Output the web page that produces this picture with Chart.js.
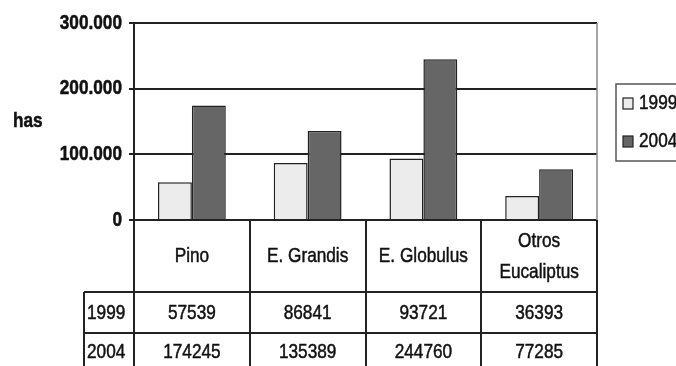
<!DOCTYPE html>
<html>
<head>
<meta charset="utf-8">
<script src="https://cdn.jsdelivr.net/npm/chart.js@4"></script>
<style>
  html, body { margin: 0; padding: 0; background: #fff; overflow: hidden; }
  #chart { display: block; }
</style>
</head>
<body>
<canvas id="chart" width="676" height="366"></canvas>
<script>
// chart data
const categories = ['Pino', 'E. Grandis', 'E. Globulus', ['Otros', 'Eucaliptus']];
const seriesNames = ['1999', '2004'];
const values1999 = [57539, 86841, 93721, 36393];
const values2004 = [174245, 135389, 244760, 77285];
const yTicks = [0, 100000, 200000, 300000];
const yLabel = 'has';

// no narrow font installed, so Arial-metric text gets squeezed horizontally
const FONT = "'Liberation Sans', Arial, sans-serif";
const SQUEEZE = 0.82;
const fillColors = ['#ececec', '#666666'];

// thousands with dots: 300000 -> 300.000
function fmt(v) {
  return String(v).replace(/\B(?=(\d{3})+(?!\d))/g, '.');
}

function narrowText(ctx, text, x, y, align, bold) {
  ctx.save();
  ctx.font = (bold ? 'bold ' : '') + '21px ' + FONT;
  ctx.textAlign = align;
  ctx.textBaseline = 'middle';
  ctx.fillStyle = '#111';
  ctx.strokeStyle = '#111';
  ctx.lineWidth = 0.5;
  ctx.translate(x, y);
  ctx.scale(SQUEEZE, 1);
  ctx.fillText(text, 0, 0);
  ctx.strokeText(text, 0, 0); // the scan looks a bit heavier
  ctx.restore();
}

// tick labels, axis label, legend and data table drawn under the plot
const extrasPlugin = {
  id: 'extras',
  afterDraw(chart) {
    const ctx = chart.ctx;
    const area = chart.chartArea;
    const x = chart.scales.x;
    const y = chart.scales.y;
    const half = (x.getPixelForValue(1) - x.getPixelForValue(0)) / 2;
    const rowTop = 292, rowMid = 333, bottom = 380, headLeft = 84;

    ctx.save();
    // y tick labels
    yTicks.forEach(v => narrowText(ctx, fmt(v), 122, y.getPixelForValue(v), 'right', true));
    // "has"
    narrowText(ctx, yLabel, 13, 121, 'left', true);

    // table grid
    ctx.strokeStyle = '#222';
    ctx.lineWidth = 2;
    ctx.beginPath();
    for (let i = 0; i <= categories.length; i++) {
      const bx = Math.round(x.getPixelForValue(i) - half);
      ctx.moveTo(bx, area.bottom);
      ctx.lineTo(bx, bottom);
    }
    ctx.moveTo(headLeft, rowTop); ctx.lineTo(area.right, rowTop);
    ctx.moveTo(headLeft, rowMid); ctx.lineTo(area.right, rowMid);
    ctx.moveTo(headLeft, rowTop); ctx.lineTo(headLeft, bottom);
    ctx.stroke();

    // table text
    categories.forEach((c, i) => {
      const cx = x.getPixelForValue(i);
      if (Array.isArray(c)) {
        narrowText(ctx, c[0], cx, 241, 'center');
        narrowText(ctx, c[1], cx, 272, 'center');
      } else {
        narrowText(ctx, c, cx, 256, 'center');
      }
      narrowText(ctx, String(values1999[i]), cx, 313, 'center');
      narrowText(ctx, String(values2004[i]), cx, 352, 'center');
    });
    narrowText(ctx, seriesNames[0], 87, 313, 'left');
    narrowText(ctx, seriesNames[1], 87, 352, 'left');

    // legend box
    ctx.strokeStyle = '#555';
    ctx.lineWidth = 1.5;
    ctx.strokeRect(616, 84, 120, 77);
    [103, 141].forEach((ly, i) => {
      ctx.fillStyle = fillColors[i];
      ctx.fillRect(623, ly - 5, 10, 11);
      ctx.strokeStyle = '#222';
      ctx.lineWidth = 1.2;
      ctx.strokeRect(623, ly - 5, 10, 11);
      narrowText(ctx, seriesNames[i], 639, ly, 'left');
    });

    // right border of plot
    ctx.strokeStyle = '#888';
    ctx.lineWidth = 1.5;
    ctx.beginPath();
    ctx.moveTo(area.right, area.top);
    ctx.lineTo(area.right, area.bottom);
    ctx.stroke();
    ctx.restore();
  }
};

const chart = new Chart(document.getElementById('chart'), {
  type: 'bar',
  data: {
    labels: categories,
    datasets: [
      {
        label: seriesNames[0],
        data: values1999,
        backgroundColor: fillColors[0],
        borderColor: '#222',
        borderWidth: 1.5,
        categoryPercentage: 0.586,
        barPercentage: 1
      },
      {
        label: seriesNames[1],
        data: values2004,
        backgroundColor: fillColors[1],
        borderColor: '#222',
        borderWidth: 1.5,
        categoryPercentage: 0.586,
        barPercentage: 1
      }
    ]
  },
  options: {
    responsive: false,
    animation: false,
    devicePixelRatio: 1,
    layout: { padding: { top: 23, right: 79, bottom: 146, left: 0 } },
    plugins: {
      legend: { display: false },
      tooltip: { enabled: false }
    },
    scales: {
      x: { display: false },
      y: {
        min: 0,
        max: 300000,
        afterFit: s => { s.width = 134; },
        afterBuildTicks: s => { s.ticks = yTicks.map(v => ({ value: v })); },
        ticks: { display: false },
        grid: { color: '#222', lineWidth: 2, tickLength: 5, drawTicks: true },
        border: { color: '#222', width: 2 }
      }
    }
  },
  plugins: [extrasPlugin]
});
</script>
</body>
</html>
